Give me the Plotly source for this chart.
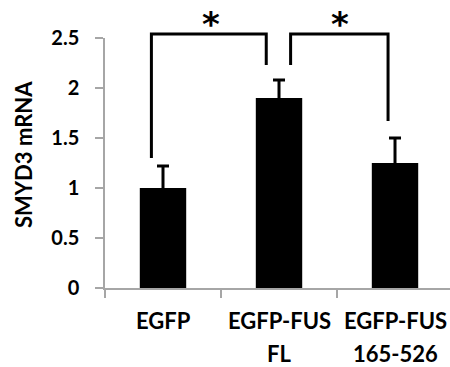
import plotly.graph_objects as go

categories = ["EGFP", "EGFP-FUS FL", "EGFP-FUS 165-526"]
label_line1 = ["EGFP", "EGFP-FUS", "EGFP-FUS"]
label_line2 = ["", "FL", "165-526"]
values = [1.0, 1.9, 1.25]
errors = [0.22, 0.18, 0.25]
y_ticks = [0, 0.5, 1, 1.5, 2, 2.5]
y_ticktext = ["0", "0.5", "1", "1.5", "2", "2.5"]

FONT = "Lato"
W, H = 450, 367
ML, MR, MT, MB = 105, 0, 38, 79
XR = [-0.5, 2.474]
YR = [0, 2.5]
PH = H - MT - MB


def px_x(i):
    return (i - XR[0]) / (XR[1] - XR[0])


def px_y(v):
    return (v - YR[0]) / (YR[1] - YR[0])


fig = go.Figure()
# the lower cap is tucked just inside the bar top so only the upper whisker shows
fig.add_trace(go.Bar(
    x=categories, y=values,
    marker=dict(color="black", line=dict(width=0)),
    width=0.4,
    error_y=dict(type="data", array=errors, arrayminus=[0.03] * len(values), symmetric=False,
                 color="black", thickness=3, width=6),
))

shapes = []
lw = 3
brackets = [
    (-0.10, 0.89, 1.30, 2.23, 2.54),
    (1.10, 1.94, 2.23, 1.67, 2.54),
]
for x0, x1, yl, yr, ytop in brackets:
    pts = [(px_x(x0), px_y(yl)), (px_x(x0), px_y(ytop)), (px_x(x1), px_y(ytop)), (px_x(x1), px_y(yr))]
    path = "M " + " L ".join(f"{a},{b}" for a, b in pts)
    shapes.append(dict(type="path", path=path, xref="paper", yref="paper",
                       line=dict(color="black", width=lw)))

annotations = []
for xs in [0.41, 1.53]:
    annotations.append(dict(x=px_x(xs), y=(H - MB - 18) / PH, xref="paper", yref="paper",
                            text="*", showarrow=False, xanchor="center", yanchor="middle", yshift=-6,
                            font=dict(family="DejaVu Sans", size=34, color="black", weight="bold")))

for i, c in enumerate(categories):
    annotations.append(dict(x=px_x(i), y=-32 / PH, xref="paper", yref="paper", text=label_line1[i],
                            showarrow=False, xanchor="center", yanchor="middle",
                            font=dict(family=FONT, size=22, color="black", weight="bold")))
    if label_line2[i]:
        annotations.append(dict(x=px_x(i), y=-65 / PH, xref="paper", yref="paper", text=label_line2[i],
                                showarrow=False, xanchor="center", yanchor="middle",
                                font=dict(family=FONT, size=22, color="black", weight="bold")))

annotations.append(dict(x=-82 / (W - ML - MR), y=(288 - 155) / PH, xref="paper", yref="paper",
                        text="SMYD3 mRNA", showarrow=False, textangle=-90,
                        xanchor="center", yanchor="middle",
                        font=dict(family=FONT, size=22, color="black", weight="bold")))

fig.update_layout(
    width=W, height=H,
    margin=dict(l=ML, r=MR, t=MT, b=MB, pad=0),
    paper_bgcolor="white", plot_bgcolor="white",
    showlegend=False,
    shapes=shapes, annotations=annotations,
    xaxis=dict(type="category", range=XR, tickson="boundaries", ticks="outside",
               ticklen=8, tickwidth=1.5, tickcolor="#a6a6a6", showticklabels=False,
               showline=True, linecolor="#a6a6a6", linewidth=1.5, showgrid=False,
               zeroline=False, fixedrange=True),
    yaxis=dict(range=YR, tickvals=y_ticks, ticktext=y_ticktext, ticks="outside",
               ticklen=8, tickwidth=1.5, tickcolor="#a6a6a6",
               showline=True, linecolor="#a6a6a6", linewidth=1.5, showgrid=False,
               zeroline=False, ticklabelstandoff=12,
               tickfont=dict(family=FONT, size=20, color="black", weight="bold")),
)

fig.write_html("out.html", config={"displayModeBar": False},
               post_script="document.body.style.margin='0';document.body.style.overflow='hidden';")
